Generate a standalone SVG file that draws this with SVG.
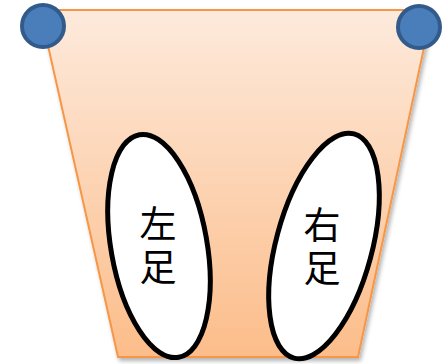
<svg xmlns="http://www.w3.org/2000/svg" width="448" height="364" viewBox="0 0 448 364">
<defs>
<linearGradient id="g" x1="0" y1="0" x2="0" y2="1">
<stop offset="0" stop-color="#fdeadc"/>
<stop offset="1" stop-color="#fcbd8a"/>
</linearGradient>
<filter id="sh" x="-10%" y="-10%" width="120%" height="120%">
<feGaussianBlur in="SourceAlpha" stdDeviation="2"/>
<feOffset dx="2" dy="3"/>
<feComponentTransfer><feFuncA type="linear" slope="0.3"/></feComponentTransfer>
<feMerge><feMergeNode/><feMergeNode in="SourceGraphic"/></feMerge>
</filter>
</defs>
<style>
.dot{fill:#4a7ebb;stroke:#325b8c;stroke-width:4}
.foot{fill:#ffffff;stroke:#000000;stroke-width:5}
.lbl{font-family:"Noto Sans CJK JP","Noto Sans CJK SC",sans-serif;font-size:37px;fill:#000000;text-anchor:middle;writing-mode:vertical-rl;letter-spacing:6px}
</style>
<g id="board">
<polygon points="40,10 432,10 358,357 118,357" fill="url(#g)" stroke="#f79646" stroke-width="2" filter="url(#sh)"/>
</g>
<g id="left-dot"><circle class="dot" cx="43" cy="26" r="21"/></g>
<g id="right-dot"><circle class="dot" cx="419" cy="27" r="21"/></g>
<g id="left-foot">
<ellipse class="foot" cx="159" cy="246" rx="48" ry="113" transform="rotate(-10 159 246)"/>
<text class="lbl" x="158" y="248">左足</text>
</g>
<g id="right-foot">
<ellipse class="foot" cx="324" cy="246" rx="48" ry="116" transform="rotate(15 324 246)"/>
<text class="lbl" x="322" y="249">右足</text>
</g>
<g id="connectors"/>
</svg>
